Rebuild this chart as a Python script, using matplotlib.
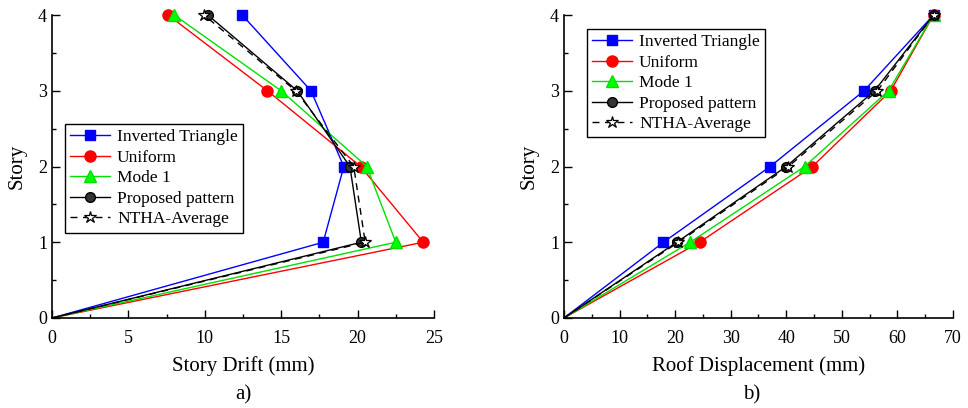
import numpy as np
import matplotlib.pyplot as plt
from matplotlib.ticker import MultipleLocator

plt.rcParams['font.family'] = ['Liberation Serif', 'DejaVu Serif']

story = [0, 1, 2, 3, 4]

# a) story drift (mm)
drift_tri = [0, 17.75, 19.1, 16.95, 12.45]
drift_uni = [0, 24.3, 20.2, 14.1, 7.6]
drift_mode = [0, 22.5, 20.6, 15.0, 8.0]
drift_prop = [0, 20.25, 19.5, 16.05, 10.2]
drift_ntha = [0, 20.5, 19.75, 15.95, 9.95]

# b) roof displacement (mm)
roof_tri = [0, 17.9, 37.1, 54.0, 66.5]
roof_uni = [0, 24.4, 44.7, 58.8, 66.5]
roof_mode = [0, 22.7, 43.3, 58.4, 66.5]
roof_prop = [0, 20.3, 40.0, 55.9, 66.5]
roof_ntha = [0, 20.6, 40.4, 56.4, 66.5]

labels = ['Inverted Triangle', 'Uniform', 'Mode 1', 'Proposed pattern', 'NTHA-Average']

fig = plt.figure(figsize=(9.68, 4.08), dpi=100)
ax1 = fig.add_axes([0.0537, 0.2206, 0.3946, 0.7426])
ax2 = fig.add_axes([0.5826, 0.2206, 0.4019, 0.7426])

mk = [1, 2, 3, 4]  # no marker at the origin


def draw(ax, tri, uni, mode, prop, ntha, anchor):
    ax.plot(tri, story, color='#0000ff', lw=1, marker='s', ms=7, markevery=mk,
            label=labels[0], clip_on=False)
    ax.plot(uni, story, color='#ff0000', lw=1, marker='o', ms=8, markevery=mk,
            label=labels[1], clip_on=False)
    ax.plot(mode, story, color='#00e000', lw=1, marker='^', ms=8, markevery=mk,
            mfc='#00ff00', mec='#00e000', label=labels[2], clip_on=False)
    ax.plot(prop, story, color='black', lw=1, marker='o', ms=7, markevery=mk,
            mfc='#333333', mec='black', label=labels[3], clip_on=False)
    ax.plot(ntha, story, color='black', lw=1, ls=(0, (5, 4)), marker='*', ms=9,
            markevery=mk, mfc='white', mec='black', mew=0.9, label=labels[4],
            clip_on=False)
    ax.set_ylim(0, 4)
    ax.yaxis.set_major_locator(MultipleLocator(1))
    ax.yaxis.set_minor_locator(MultipleLocator(0.5))
    ax.spines['top'].set_visible(False)
    ax.spines['right'].set_visible(False)
    ax.spines['left'].set_linewidth(1.2)
    ax.spines['bottom'].set_linewidth(1.2)
    ax.tick_params(which='both', direction='in', labelsize=13, width=1)
    ax.tick_params(which='major', length=6)
    ax.tick_params(which='minor', length=3)
    ax.tick_params(axis='x', pad=9)
    ax.set_ylabel('Story', fontsize=15, labelpad=8)
    leg = ax.legend(loc='upper left', bbox_to_anchor=anchor, fontsize=12.5,
                    fancybox=False, edgecolor='black', framealpha=1,
                    handlelength=2.3, handletextpad=0.4, labelspacing=0.25,
                    borderpad=0.3, borderaxespad=0)
    leg.get_frame().set_linewidth(1)


draw(ax1, drift_tri, drift_uni, drift_mode, drift_prop, drift_ntha, (0.034, 0.64))
ax1.set_xlim(0, 25)
ax1.xaxis.set_major_locator(MultipleLocator(5))
ax1.xaxis.set_minor_locator(MultipleLocator(2.5))
ax1.set_xlabel('Story Drift (mm)', fontsize=15, labelpad=6)

draw(ax2, roof_tri, roof_uni, roof_mode, roof_prop, roof_ntha, (0.059, 0.954))
ax2.set_xlim(0, 70)
ax2.xaxis.set_major_locator(MultipleLocator(10))
ax2.xaxis.set_minor_locator(MultipleLocator(5))
ax2.set_xlabel('Roof Displacement (mm)', fontsize=15, labelpad=6)

fig.text(0.251, 0.02, 'a)', fontsize=15, ha='center')
fig.text(0.777, 0.02, 'b)', fontsize=15, ha='center')

fig.savefig('out.png', dpi=100)
